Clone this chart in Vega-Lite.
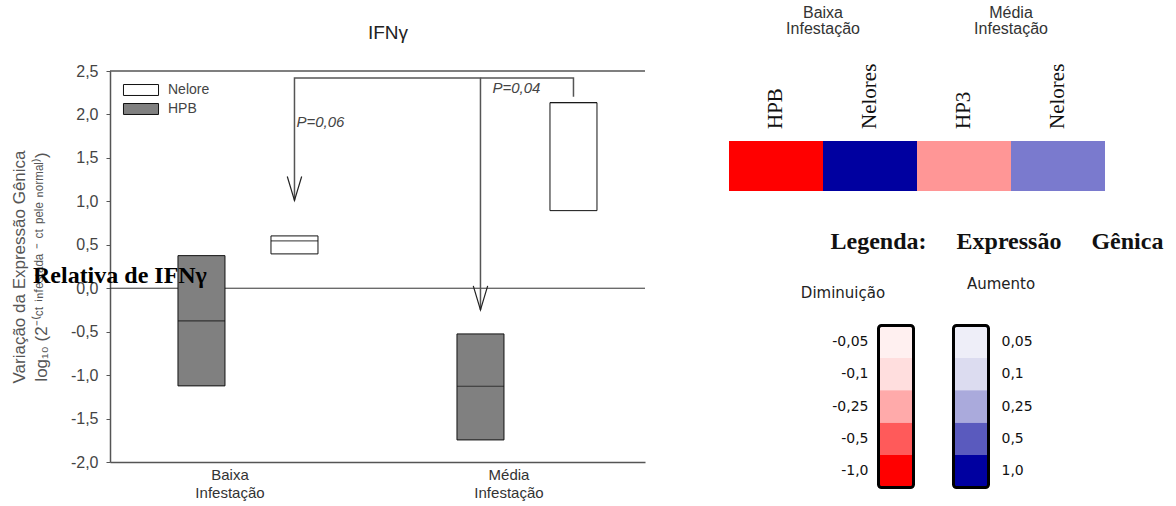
{
  "$schema": "https://vega.github.io/schema/vega-lite/v6.json",
  "width": 535,
  "height": 391,
  "autosize": {"type": "none"},
  "padding": {"left": 110, "top": 71, "right": 531, "bottom": 44},
  "background": "white",
  "config": {"view": {"stroke": null}, "font": "Liberation Sans"},
  "resolve": {
    "scale": {"x": "independent", "y": "independent", "fill": "independent", "color": "independent", "xOffset": "independent"},
    "axis": {"x": "independent", "y": "independent"},
    "legend": {"fill": "independent", "color": "independent"}
  },
  "layer": [
    {
      "layer": [
        {
          "data": {"values": [{"linha": "moldura"}]},
          "mark": {"type": "rule", "color": "#555", "strokeWidth": 1.5},
          "encoding": {"y": {"datum": 2.5, "type": "quantitative"}}
        },
        {
          "data": {"values": [{"linha": "zero"}]},
          "mark": {"type": "rule", "color": "#333", "strokeWidth": 1},
          "encoding": {"y": {"datum": 0, "type": "quantitative"}}
        },
        {
          "data": {"values": [
            {"grupo": "Baixa Infestação", "raca": "HPB", "q1": -1.124, "mediana": -0.376, "q3": 0.375},
            {"grupo": "Baixa Infestação", "raca": "Nelore", "q1": 0.395, "mediana": 0.545, "q3": 0.602},
            {"grupo": "Média Infestação", "raca": "HPB", "q1": -1.746, "mediana": -1.128, "q3": -0.526},
            {"grupo": "Média Infestação", "raca": "Nelore", "q1": 0.893, "mediana": 2.136, "q3": 2.136}
          ]},
          "layer": [
            {
              "mark": {"type": "bar", "stroke": "#111", "strokeWidth": 1},
              "encoding": {
                "x": {
                  "field": "grupo", "type": "nominal",
                  "scale": {"domain": ["Baixa Infestação", "Média Infestação"], "paddingInner": 0.4982, "paddingOuter": 0.2079, "align": 0.586},
                  "axis": {"title": null, "labelExpr": "split(datum.label, ' ')", "labelAngle": 0, "labelFont": "Liberation Sans", "labelFontSize": 15, "labelColor": "#333", "labelOffset": -18, "labelPadding": 5, "labelLineHeight": 18, "ticks": false, "domainColor": "#555", "domainWidth": 1.5}
                },
                "xOffset": {"field": "raca", "type": "nominal", "scale": {"domain": ["HPB", "Nelore"], "paddingInner": 0.4946, "paddingOuter": 0}},
                "y": {
                  "field": "q1", "type": "quantitative",
                  "scale": {"domain": [-2, 2.5], "nice": false, "zero": false},
                  "axis": {
                    "values": [-2, -1.5, -1, -0.5, 0, 0.5, 1, 1.5, 2, 2.5],
                    "labelExpr": "replace(replace(format(datum.value, '.1f'), '.', ','), '−', '-')",
                    "grid": false, "tickSize": 4, "tickColor": "#555", "domainColor": "#555", "domainWidth": 1.5,
                    "labelFont": "Liberation Sans", "labelFontSize": 16, "labelColor": "#444", "labelPadding": 8,
                    "title": ["Variação da Expressão Gênica", "log₁₀ (2⁻⁽ᶜᵗ ⁱⁿᶠᵉˢᵗᵃᵈᵃ ⁻ ᶜᵗ ᵖᵉˡᵉ ⁿᵒʳᵐᵃˡ⁾)"],
                    "titleFont": "Liberation Sans", "titleFontSize": 17, "titleFontWeight": "normal", "titleColor": "#555", "titlePadding": 20, "titleLineHeight": 22
                  }
                },
                "y2": {"field": "q3"},
                "fill": {
                  "field": "raca", "type": "nominal",
                  "scale": {"domain": ["Nelore", "HPB"], "range": ["#ffffff", "#808080"]},
                  "legend": {"title": null, "orient": "none", "legendX": 24, "legendY": 12, "symbolType": "M-3.2,-1H3.2V1H-3.2Z", "symbolSize": 120, "symbolStrokeColor": "#111", "symbolStrokeWidth": 1, "symbolOpacity": 1, "labelFont": "Liberation Sans", "labelFontSize": 14, "labelColor": "#444", "labelOffset": 20, "rowPadding": 3, "padding": 0}
                }
              }
            },
            {
              "mark": {"type": "tick", "color": "#111", "thickness": 1.2, "size": 47},
              "encoding": {
                "x": {"field": "grupo", "type": "nominal"},
                "xOffset": {"field": "raca", "type": "nominal"},
                "y": {"field": "mediana", "type": "quantitative"}
              }
            }
          ]
        },
        {
          "data": {"values": [
            {"trecho": "A", "ordem": 1, "grupo": "Baixa Infestação", "raca": "Nelore", "valor": 1.01},
            {"trecho": "A", "ordem": 2, "grupo": "Baixa Infestação", "raca": "Nelore", "valor": 2.42},
            {"trecho": "A", "ordem": 3, "grupo": "Média Infestação", "raca": "HPB", "valor": 2.42},
            {"trecho": "A", "ordem": 4, "grupo": "Média Infestação", "raca": "HPB", "valor": -0.25},
            {"trecho": "B", "ordem": 1, "grupo": "Média Infestação", "raca": "HPB", "valor": 2.42},
            {"trecho": "B", "ordem": 2, "grupo": "Média Infestação", "raca": "Nelore", "valor": 2.42},
            {"trecho": "B", "ordem": 3, "grupo": "Média Infestação", "raca": "Nelore", "valor": 2.205}
          ]},
          "mark": {"type": "line", "color": "#555", "strokeWidth": 1.5},
          "encoding": {
            "x": {"field": "grupo", "type": "nominal"},
            "xOffset": {"field": "raca", "type": "nominal"},
            "y": {"field": "valor", "type": "quantitative"},
            "detail": {"field": "trecho"},
            "order": {"field": "ordem", "type": "quantitative"}
          }
        },
        {
          "data": {"values": [
            {"grupo": "Baixa Infestação", "raca": "Nelore", "valor": 1.01},
            {"grupo": "Média Infestação", "raca": "HPB", "valor": -0.25}
          ]},
          "mark": {"type": "point", "shape": "M-0.6,-2L0,0L0.6,-2", "size": 576, "filled": false, "stroke": "#222", "strokeWidth": 1.2, "opacity": 1},
          "encoding": {
            "x": {"field": "grupo", "type": "nominal"},
            "xOffset": {"field": "raca", "type": "nominal"},
            "y": {"field": "valor", "type": "quantitative"}
          }
        },
        {
          "data": {"values": [{"grupo": "Baixa Infestação", "raca": "Nelore", "valor": 1.91, "rotulo": "P=0,06"}]},
          "mark": {"type": "text", "align": "left", "baseline": "middle", "dx": 2, "font": "Liberation Sans", "fontStyle": "italic", "fontSize": 15, "color": "#444"},
          "encoding": {
            "x": {"field": "grupo", "type": "nominal"},
            "xOffset": {"field": "raca", "type": "nominal"},
            "y": {"field": "valor", "type": "quantitative"},
            "text": {"field": "rotulo"}
          }
        },
        {
          "data": {"values": [{"grupo": "Média Infestação", "raca": "HPB", "valor": 2.30, "rotulo": "P=0,04"}]},
          "mark": {"type": "text", "align": "left", "baseline": "middle", "dx": 12, "font": "Liberation Sans", "fontStyle": "italic", "fontSize": 15, "color": "#444"},
          "encoding": {
            "x": {"field": "grupo", "type": "nominal"},
            "xOffset": {"field": "raca", "type": "nominal"},
            "y": {"field": "valor", "type": "quantitative"},
            "text": {"field": "rotulo"}
          }
        },
        {
          "data": {"values": [{"rotulo": "IFNγ"}]},
          "mark": {"type": "text", "align": "center", "baseline": "alphabetic", "dx": -69, "dy": -32, "font": "Liberation Sans", "fontSize": 19, "color": "#222"},
          "encoding": {
            "x": {"datum": "Média Infestação", "type": "nominal", "bandPosition": 0},
            "y": {"datum": 2.5, "type": "quantitative"},
            "text": {"field": "rotulo"}
          }
        },
        {
          "data": {"values": [{"rotulo": "Relativa de IFNγ"}]},
          "mark": {"type": "text", "align": "left", "baseline": "alphabetic", "dx": -145, "dy": -5, "font": "Liberation Serif", "fontWeight": "bold", "fontSize": 24, "color": "#000"},
          "encoding": {
            "x": {"datum": "Baixa Infestação", "type": "nominal", "bandPosition": 0},
            "y": {"datum": 0, "type": "quantitative"},
            "text": {"field": "rotulo"}
          }
        }
      ]
    },
    {
      "encoding": {
        "x": {"field": "ordem", "type": "ordinal", "scale": {"domain": [1, 2, 3, 4], "range": [619, 995], "paddingInner": 0, "paddingOuter": 0}, "axis": null},
        "y": {"field": "gene", "type": "nominal", "scale": {"domain": ["IFNγ"], "range": [70, 120], "paddingInner": 0, "paddingOuter": 0}, "axis": null}
      },
      "layer": [
        {
          "data": {"values": [
            {"grupo": "Baixa Infestação", "coluna": "HPB", "ordem": 1, "valor": -1.0, "gene": "IFNγ"},
            {"grupo": "Baixa Infestação", "coluna": "Nelores", "ordem": 2, "valor": 1.0, "gene": "IFNγ"},
            {"grupo": "Média Infestação", "coluna": "HP3", "ordem": 3, "valor": -0.41, "gene": "IFNγ"},
            {"grupo": "Média Infestação", "coluna": "Nelores", "ordem": 4, "valor": 0.52, "gene": "IFNγ"}
          ]},
          "layer": [
            {
              "mark": {"type": "rect"},
              "encoding": {
                "color": {"field": "valor", "type": "quantitative", "scale": {"domain": [-1, 0, 1], "range": ["#ff0000", "#ffffff", "#0000a0"], "interpolate": "rgb"}, "legend": null}
              }
            },
            {
              "mark": {"type": "text", "angle": 270, "align": "left", "baseline": "middle", "dx": 12, "font": "Liberation Serif", "fontSize": 21, "color": "#111"},
              "encoding": {
                "y": {"field": "gene", "type": "nominal", "bandPosition": 0},
                "text": {"field": "coluna"}
              }
            }
          ]
        },
        {
          "data": {"values": [
            {"grupo": "Baixa Infestação", "ordem": 1, "gene": "IFNγ"},
            {"grupo": "Média Infestação", "ordem": 3, "gene": "IFNγ"}
          ]},
          "mark": {"type": "text", "align": "center", "baseline": "top", "lineBreak": " ", "lineHeight": 16, "dy": -136, "font": "Liberation Sans", "fontSize": 16, "color": "#333"},
          "encoding": {
            "x": {"field": "ordem", "type": "ordinal", "bandPosition": 1},
            "y": {"field": "gene", "type": "nominal", "bandPosition": 0},
            "text": {"field": "grupo"}
          }
        }
      ]
    },
    {
      "encoding": {
        "x": {"field": "lado", "type": "nominal", "scale": {"domain": ["Diminuição", "Aumento"], "range": [768.5, 878.5], "paddingInner": 0.5333, "paddingOuter": 0}, "axis": null},
        "y": {"field": "ordem", "type": "ordinal", "scale": {"domain": [1, 2, 3, 4, 5], "range": [254.5, 416.5], "paddingInner": 0, "paddingOuter": 0}, "axis": null}
      },
      "layer": [
        {
          "data": {"values": [
            {"lado": "Diminuição", "ordem": 1, "nivel": "-0,05"},
            {"lado": "Diminuição", "ordem": 2, "nivel": "-0,1"},
            {"lado": "Diminuição", "ordem": 3, "nivel": "-0,25"},
            {"lado": "Diminuição", "ordem": 4, "nivel": "-0,5"},
            {"lado": "Diminuição", "ordem": 5, "nivel": "-1,0"},
            {"lado": "Aumento", "ordem": 1, "nivel": "0,05"},
            {"lado": "Aumento", "ordem": 2, "nivel": "0,1"},
            {"lado": "Aumento", "ordem": 3, "nivel": "0,25"},
            {"lado": "Aumento", "ordem": 4, "nivel": "0,5"},
            {"lado": "Aumento", "ordem": 5, "nivel": "1,0"}
          ]},
          "layer": [
            {
              "mark": {"type": "rect"},
              "encoding": {
                "fill": {
                  "field": "nivel", "type": "nominal",
                  "scale": {"domain": ["-0,05", "-0,1", "-0,25", "-0,5", "-1,0", "0,05", "0,1", "0,25", "0,5", "1,0"], "range": ["#fff0f0", "#ffdede", "#ffaaaa", "#ff5a5a", "#ff0000", "#eeeef8", "#dcdcf0", "#aaaadc", "#5a5abe", "#0000a0"]},
                  "legend": null
                }
              }
            },
            {
              "transform": [{"filter": "datum.lado == 'Diminuição'"}],
              "mark": {"type": "text", "align": "right", "baseline": "middle", "dx": -10, "font": "DejaVu Sans", "fontSize": 14, "color": "#111"},
              "encoding": {
                "x": {"field": "lado", "type": "nominal", "bandPosition": 0},
                "text": {"field": "nivel"}
              }
            },
            {
              "transform": [{"filter": "datum.lado == 'Aumento'"}],
              "mark": {"type": "text", "align": "left", "baseline": "middle", "dx": 13, "font": "DejaVu Sans", "fontSize": 14, "color": "#111"},
              "encoding": {
                "x": {"field": "lado", "type": "nominal", "bandPosition": 1},
                "text": {"field": "nivel"}
              }
            }
          ]
        },
        {
          "data": {"values": [{"lado": "Diminuição", "ordem": 1, "titulo": "Diminuição"}]},
          "mark": {"type": "text", "align": "center", "baseline": "middle", "dx": -53, "dy": -33, "font": "DejaVu Sans", "fontSize": 15, "color": "#222"},
          "encoding": {
            "y": {"field": "ordem", "type": "ordinal", "bandPosition": 0},
            "text": {"field": "titulo"}
          }
        },
        {
          "data": {"values": [{"lado": "Aumento", "ordem": 1, "titulo": "Aumento"}]},
          "mark": {"type": "text", "align": "center", "baseline": "middle", "dx": 30, "dy": -42, "font": "DejaVu Sans", "fontSize": 15, "color": "#222"},
          "encoding": {
            "y": {"field": "ordem", "type": "ordinal", "bandPosition": 0},
            "text": {"field": "titulo"}
          }
        },
        {
          "data": {"values": [{"lado": "Aumento", "ordem": 1, "titulo": "Legenda:\u00a0\u00a0\u00a0\u00a0\u00a0Expressão\u00a0\u00a0\u00a0\u00a0\u00a0Gênica"}]},
          "mark": {"type": "text", "align": "center", "baseline": "alphabetic", "dx": 26, "dy": -77, "font": "Liberation Serif", "fontWeight": "bold", "fontSize": 24, "color": "#111"},
          "encoding": {
            "y": {"field": "ordem", "type": "ordinal", "bandPosition": 0},
            "text": {"field": "titulo"}
          }
        }
      ]
    },
    {
      "data": {"values": [{"lado": "Diminuição", "barra": "escala"}, {"lado": "Aumento", "barra": "escala"}]},
      "mark": {"type": "rect", "filled": false, "stroke": "#000", "strokeWidth": 3, "cornerRadius": 3},
      "encoding": {
        "x": {"field": "lado", "type": "nominal", "scale": {"domain": ["Diminuição", "Aumento"], "range": [768.5, 878.5], "paddingInner": 0.5333, "paddingOuter": 0}, "axis": null},
        "y": {"field": "barra", "type": "nominal", "scale": {"domain": ["escala"], "range": [254.5, 416.5], "paddingInner": 0, "paddingOuter": 0}, "axis": null}
      }
    }
  ]
}
